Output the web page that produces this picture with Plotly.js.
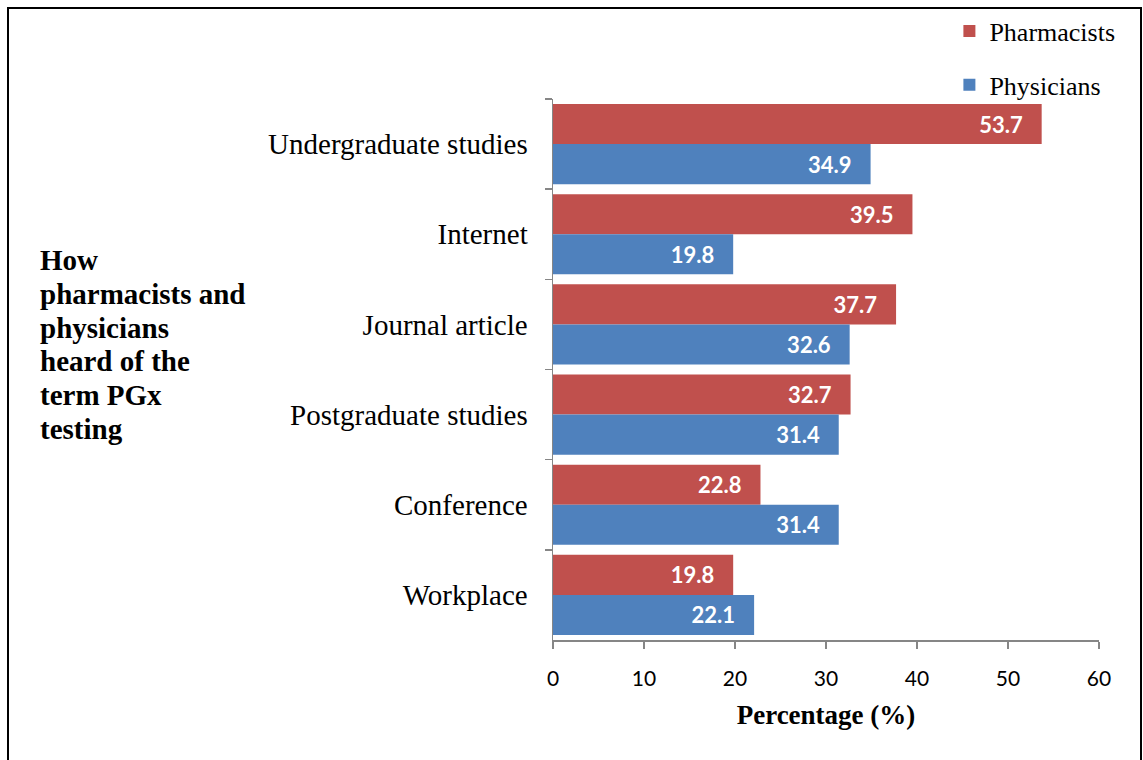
<!DOCTYPE html>
<html>
<head>
<meta charset="utf-8">
<script src="https://cdn.plot.ly/plotly-3.0.1.min.js"></script>
<style>
  html, body { margin: 0; padding: 0; background: #ffffff; }
  #chart { width: 1143px; height: 760px; }
</style>
</head>
<body>
<div id="chart"></div>
<script>
// Sources through which respondents first heard of PGx testing
const sources = [
  'Undergraduate studies',
  'Internet',
  'Journal article',
  'Postgraduate studies',
  'Conference',
  'Workplace'
];
const pharmacists = [53.7, 39.5, 37.7, 32.7, 22.8, 19.8];
const physicians  = [34.9, 19.8, 32.6, 31.4, 31.4, 22.1];
const xTicks = [0, 10, 20, 30, 40, 50, 60];
const sideTitle = ['How', 'pharmacists and', 'physicians', 'heard of the', 'term PGx', 'testing'];

const W = 1143, H = 760;
const M = { l: 553, r: 44, t: 99, b: 120 };
const plotH = H - M.t - M.b;
const plotW = W - M.l - M.r;
// pixel -> paper helpers for the text placed around the plot
const px = x => (x - M.l) / plotW;
const py = y => (H - M.b - y) / plotH;

const pad = '\u00a0\u00a0\u00a0';
const labelFont = { family: 'Lato, "Open Sans", sans-serif', size: 22, color: '#ffffff', weight: 700 };
const serif = '"Liberation Serif", "Times New Roman", serif';

function series(name, values, color) {
  return {
    type: 'bar',
    orientation: 'h',
    name: name,
    legendgroup: name,
    y: sources,
    x: values,
    text: values.map(v => v.toFixed(1) + pad),
    texttemplate: '%{text}',
    textposition: 'inside',
    insidetextanchor: 'end',
    textfont: labelFont,
    constraintext: 'none',
    marker: { color: color, line: { width: 0 } },
    hoverinfo: 'x+y+name'
  };
}

const data = [
  series('Pharmacists', pharmacists, '#C0504D'),
  series('Physicians', physicians, '#4F81BD')
];

// bold multi-line heading on the left, one annotation per line
const titleLines = sideTitle.map((line, i) => ({
  xref: 'paper', yref: 'paper',
  x: px(38), y: py(260 + i * 33.8),
  xanchor: 'left', yanchor: 'middle',
  align: 'left',
  showarrow: false,
  text: line,
  font: { family: serif, size: 29, color: '#000000', weight: 700 }
}));

const layout = {
  width: W,
  height: H,
  margin: { l: M.l, r: M.r, t: M.t, b: M.b, pad: 0, autoexpand: false },
  paper_bgcolor: '#ffffff',
  plot_bgcolor: '#ffffff',
  barmode: 'group',
  bargap: 0.11,
  bargroupgap: 0,
  showlegend: true,
  legend: {
    x: 0.726, xanchor: 'left',
    y: 1.169, yanchor: 'top',
    traceorder: 'grouped',
    tracegroupgap: 17,
    font: { family: serif, size: 26, color: '#000000' },
    bgcolor: 'rgba(0,0,0,0)',
    itemwidth: 30
  },
  xaxis: {
    range: [0, 60],
    tickvals: xTicks,
    ticktext: xTicks.map(String),
    showgrid: false,
    zeroline: false,
    showline: true,
    linecolor: '#868686',
    linewidth: 1.5,
    ticks: 'outside',
    ticklen: 7,
    tickwidth: 1.5,
    tickcolor: '#868686',
    ticklabelstandoff: 12,
    tickfont: { family: 'Lato, "Open Sans", sans-serif', size: 21, color: '#000000' },
    title: {
      text: 'Percentage (%)',
      standoff: 16,
      font: { family: serif, size: 27, color: '#000000', weight: 700 }
    },
    automargin: false,
    fixedrange: true
  },
  yaxis: {
    type: 'category',
    autorange: 'reversed',
    showgrid: false,
    zeroline: false,
    showline: true,
    linecolor: '#868686',
    linewidth: 1.5,
    ticks: 'outside',
    tickson: 'boundaries',
    ticklen: 7,
    tickwidth: 1.5,
    tickcolor: '#868686',
    ticklabelstandoff: 18,
    tickfont: { family: serif, size: 29, color: '#000000' },
    automargin: false,
    fixedrange: true
  },
  annotations: titleLines,
  shapes: [{
    type: 'rect',
    xref: 'paper', yref: 'paper',
    x0: px(8), x1: px(1141),
    y0: py(790), y1: py(8),
    line: { color: '#000000', width: 2 },
    fillcolor: 'rgba(0,0,0,0)',
    layer: 'above'
  }]
};

Plotly.newPlot('chart', data, layout, { displayModeBar: false, staticPlot: true });
</script>
</body>
</html>
